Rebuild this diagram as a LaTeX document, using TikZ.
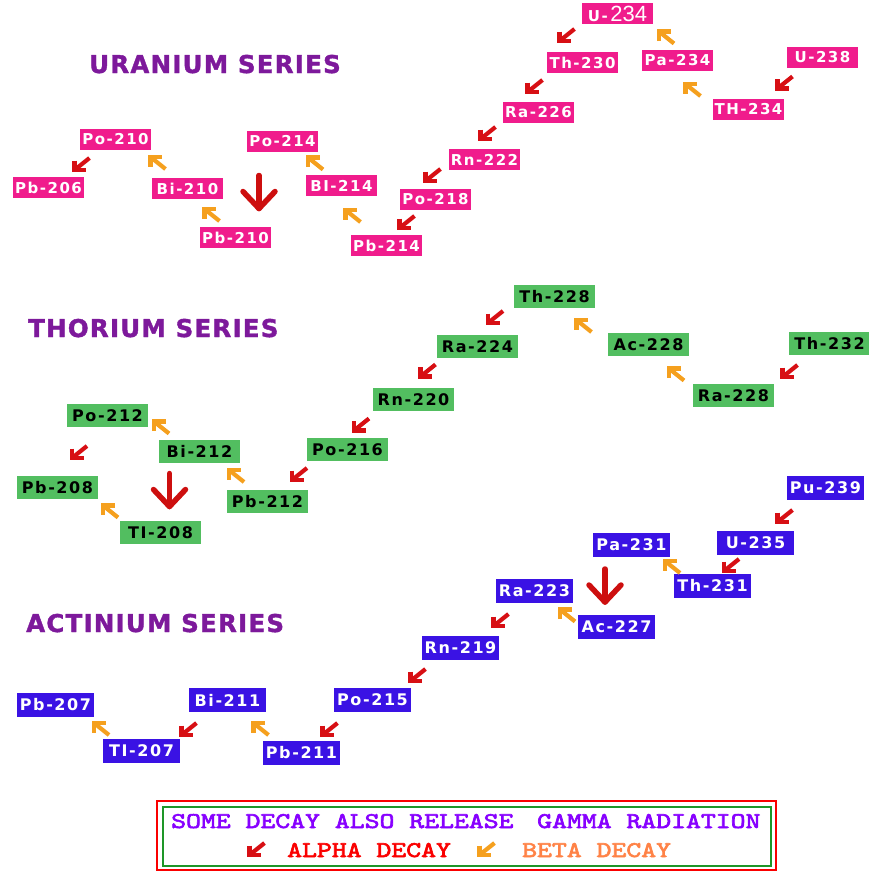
\documentclass[tikz,border=0pt]{standalone}
\usepackage{fontspec}
\newfontfamily\boxfont{DejaVu Sans}[LetterSpace=10]
\newfontfamily\titlefont{DejaVu Sans}[LetterSpace=5, FakeBold=1.5]
\newfontfamily\ufont{Liberation Sans}
\newfontfamily\legfont{lmmono10-regular.otf}[FakeBold=2.5]
\definecolor{upink}{RGB}{240,28,140}
\definecolor{tgreen}{RGB}{82,190,96}
\definecolor{ablue}{RGB}{58,18,228}
\definecolor{titlepurple}{RGB}{125,25,155}
\definecolor{alphared}{RGB}{215,15,20}
\definecolor{betaorange}{RGB}{245,160,30}
\definecolor{bigred}{RGB}{205,15,15}
\definecolor{legviolet}{RGB}{135,0,255}
\definecolor{legred}{RGB}{250,0,0}
\definecolor{legorange}{RGB}{255,130,70}
\definecolor{leggreen}{RGB}{30,150,40}
\tikzset{
  nuc/.style={anchor=north west, inner sep=0pt, outer sep=0pt},
  ubox/.style={nuc, fill=upink, text=white, minimum width=71pt, minimum height=21pt,
    font=\boxfont\bfseries\fontsize{15}{15}\selectfont},
  tbox/.style={nuc, fill=tgreen, text=black, minimum width=81pt, minimum height=22.5pt,
    font=\boxfont\bfseries\fontsize{16}{16}\selectfont},
  abox/.style={nuc, fill=ablue, text=white, minimum width=77pt, minimum height=24pt,
    font=\boxfont\bfseries\fontsize{16}{16}\selectfont},
  series/.style={anchor=base west, inner sep=0pt, text=titlepurple,
    font=\titlefont\bfseries\fontsize{24.5}{24.5}\selectfont},
  legtext/.style={anchor=base west, inner sep=0pt,
    font=\legfont\fontsize{22.5}{22.5}\selectfont},
  decayarrow/.pic={
    \draw[line width=4.2pt, line cap=butt, line join=miter] (-6.5,-4) -- (-6.5,5.5) -- (5,5.5);
    \draw[line width=4.2pt, line cap=butt] (-6.5,5.5) -- (8.5,-6.5);
  },
  bigarrow/.pic={
    \draw[line width=5.5pt, line cap=round, line join=round] (0,-17) -- (0,16);
    \draw[line width=5.5pt, line cap=round, line join=round] (-16,-1) -- (0,16) -- (16,-1);
  },
  alph/.style={alphared},
  bet/.style={betaorange, yscale=-1}
}
\begin{document}
\begin{tikzpicture}[x=1pt, y=-1pt]
\useasboundingbox (0,0) rectangle (868,873);

% ---------- titles
\node[series] (tu) at (89,73) {URANIUM SERIES};
\node[series] (tt) at (28,337) {THORIUM SERIES};
\node[series] (ta) at (26,632) {ACTINIUM SERIES};

% ---------- uranium series
\node[ubox] (U234) at (582,3) {U-\,{\ufont\mdseries\fontsize{22}{22}\selectfont 234}};
\node[ubox] (Th230) at (547,52) {Th-230};
\node[ubox] (Pa234) at (642,50) {Pa-234};
\node[ubox] (U238) at (787,47) {U-238};
\node[ubox] (TH234) at (713,99) {TH-234};
\node[ubox] (Ra226) at (503,102) {Ra-226};
\node[ubox] (Rn222) at (449,149) {Rn-222};
\node[ubox] (Po218) at (400,189) {Po-218};
\node[ubox] (Pb214) at (351,235) {Pb-214};
\node[ubox] (Bi214) at (306,175) {BI-214};
\node[ubox] (Po214) at (247,131) {Po-214};
\node[ubox] (Pb210) at (200,227) {Pb-210};
\node[ubox] (Bi210) at (152,178) {Bi-210};
\node[ubox] (Po210) at (80,129) {Po-210};
\node[ubox] (Pb206) at (13,177) {Pb-206};

\pic[alph] at (566,35.5) {decayarrow};
\pic[bet] at (665.5,37) {decayarrow};
\pic[alph] at (784,83) {decayarrow};
\pic[bet] at (692,89.5) {decayarrow};
\pic[alph] at (534,86.5) {decayarrow};
\pic[alph] at (487,133.5) {decayarrow};
\pic[alph] at (432,175.5) {decayarrow};
\pic[alph] at (406,222.5) {decayarrow};
\pic[bet] at (352,215.5) {decayarrow};
\pic[bet] at (314.5,163) {decayarrow};
\pic[bigred] at (259,192.5) {bigarrow};
\pic[bet] at (211,214.5) {decayarrow};
\pic[bet] at (157,162.5) {decayarrow};
\pic[alph] at (81,164.5) {decayarrow};

% ---------- thorium series
\node[tbox] (Th228) at (514,285) {Th-228};
\node[tbox] (Ra224) at (437,335) {Ra-224};
\node[tbox] (Ac228) at (608,333) {Ac-228};
\node[tbox] (Th232) at (789,332) {Th-232};
\node[tbox] (Ra228) at (693,384) {Ra-228};
\node[tbox] (Rn220) at (373,388) {Rn-220};
\node[tbox] (Po216) at (307,438) {Po-216};
\node[tbox] (Pb212) at (227,490) {Pb-212};
\node[tbox] (Bi212) at (159,440) {Bi-212};
\node[tbox] (Po212) at (67,404) {Po-212};
\node[tbox] (Pb208) at (17,476) {Pb-208};
\node[tbox] (Tl208) at (120,521) {TI-208};

\pic[alph] at (494.5,317.5) {decayarrow};
\pic[bet] at (583,325.5) {decayarrow};
\pic[alph] at (789,371.5) {decayarrow};
\pic[bet] at (675.5,374) {decayarrow};
\pic[alph] at (427,371) {decayarrow};
\pic[alph] at (360.5,425) {decayarrow};
\pic[alph] at (298.5,474.5) {decayarrow};
\pic[bet] at (235.5,475.5) {decayarrow};
\pic[bet] at (160.5,427) {decayarrow};
\pic[alph] at (78.5,452.5) {decayarrow};
\pic[bigred] at (169.5,490.5) {bigarrow};
\pic[bet] at (109.5,511) {decayarrow};

% ---------- actinium series
\node[abox] (Pu239) at (787,476) {Pu-239};
\node[abox] (U235) at (717,531) {U-235};
\node[abox] (Pa231) at (593,533) {Pa-231};
\node[abox] (Th231) at (674,574) {Th-231};
\node[abox] (Ra223) at (496,579) {Ra-223};
\node[abox] (Ac227) at (578,615) {Ac-227};
\node[abox] (Rn219) at (422,636) {Rn-219};
\node[abox] (Po215) at (334,688) {Po-215};
\node[abox] (Pb211) at (263,741) {Pb-211};
\node[abox] (Bi211) at (189,688) {Bi-211};
\node[abox] (Tl207) at (103,739) {TI-207};
\node[abox] (Pb207) at (17,693) {Pb-207};

\pic[alph] at (784,516.5) {decayarrow};
\pic[alph] at (730.5,565.5) {decayarrow};
\pic[bet] at (671.5,566.5) {decayarrow};
\pic[bigred] at (605,586) {bigarrow};
\pic[bet] at (566.5,615) {decayarrow};
\pic[alph] at (500,620.5) {decayarrow};
\pic[alph] at (417,675.5) {decayarrow};
\pic[alph] at (329,729.5) {decayarrow};
\pic[bet] at (260,728.5) {decayarrow};
\pic[alph] at (188,729.5) {decayarrow};
\pic[bet] at (100.5,728.5) {decayarrow};

% ---------- legend
\draw[legred, line width=1.3pt] (157,801) rectangle (776,870);
\draw[leggreen, line width=1.6pt] (163,807) rectangle (771,866);
\node[legtext, text=legviolet] (l1) at (171,828) {\scalebox{1.26}[1]{SOME DECAY ALSO RELEASE}};
\node[legtext, text=legviolet] (l2) at (537,828) {\scalebox{1.26}[1]{GAMMA RADIATION}};
\pic[alphared] at (256,849.5) {decayarrow};
\node[legtext, text=legred] (l3) at (287,857) {\scalebox{1.26}[1]{ALPHA DECAY}};
\pic[betaorange] at (486,849.5) {decayarrow};
\node[legtext, text=legorange] (l4) at (522,857) {\scalebox{1.26}[1]{BETA DECAY}};
\end{tikzpicture}
\end{document}
